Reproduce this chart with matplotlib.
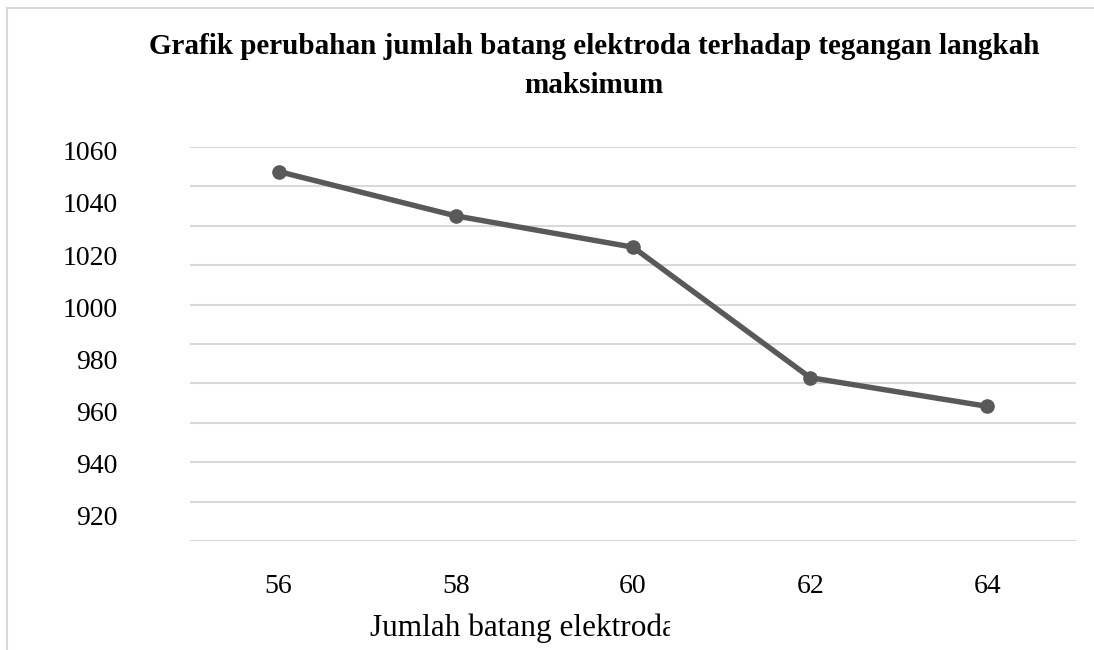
import numpy as np
import matplotlib
matplotlib.use("Agg")
import matplotlib.pyplot as plt
from matplotlib.transforms import Bbox

# Data: maximum step voltage vs. number of electrode rods
jumlah_batang = ["56", "58", "60", "62", "64"]
tegangan_langkah = [1052, 1035, 1023, 973, 962]
y_ticks = [920, 940, 960, 980, 1000, 1020, 1040, 1060]

W, H, DPI = 1094, 650, 100
SERIF = ["Liberation Serif", "DejaVu Serif"]
LINE_COL = "#595959"
GRID_COL = "#d9d9d9"

fig = plt.figure(figsize=(W / DPI, H / DPI), dpi=DPI)

# plot area in pixel coordinates
left, right, top, bottom = 190, 1076, 147, 541
ax = fig.add_axes([left / W, 1 - bottom / H, (right - left) / W, (bottom - top) / H])

x = np.arange(len(jumlah_batang))
ax.plot(x, tegangan_langkah, color=LINE_COL, lw=3.9, marker="o", ms=9.5,
        mfc=LINE_COL, mec=LINE_COL, solid_capstyle="round", zorder=3)

ax.set_xlim(-0.5, len(jumlah_batang) - 0.5)
ax.set_ylim(910.4, 1061.4)

# horizontal gridlines evenly spaced across the plot area
ax.set_yticks(np.linspace(910.4, 1061.4, 11), minor=True)
ax.yaxis.grid(True, which="minor", color=GRID_COL, lw=1.5)
ax.tick_params(axis="y", which="minor", length=0)

ax.set_yticks(y_ticks)
ax.set_yticklabels([str(v) for v in y_ticks], family=SERIF, fontsize=20)
ax.tick_params(axis="y", which="major", length=0, pad=52)

ax.set_xticks(x)
ax.set_xticklabels(jumlah_batang, family=SERIF, fontsize=20)
ax.tick_params(axis="x", length=0, pad=24)

for s in ax.spines.values():
    s.set_visible(False)

# chart frame (top and left edges)
fig.add_artist(plt.Line2D([7 / W, 1.0], [1 - 8 / H, 1 - 8 / H], color=GRID_COL, lw=1.5))
fig.add_artist(plt.Line2D([7 / W, 7 / W], [0, 1 - 8 / H], color=GRID_COL, lw=1.5))

fig.text(594 / W, 1 - 66 / H,
         "Grafik perubahan jumlah batang elektroda terhadap tegangan langkah\nmaksimum",
         ha="center", va="center", family=SERIF, fontsize=21, fontweight="bold",
         linespacing=1.6)

xl = fig.text(370 / W, 1 - 628 / H, "Jumlah batang elektroda", ha="left",
              va="center", family=SERIF, fontsize=22.5)
xl.set_clip_box(Bbox.from_extents(0, 0, 670, H))
xl.set_clip_on(True)

fig.savefig("out.png", dpi=DPI)
